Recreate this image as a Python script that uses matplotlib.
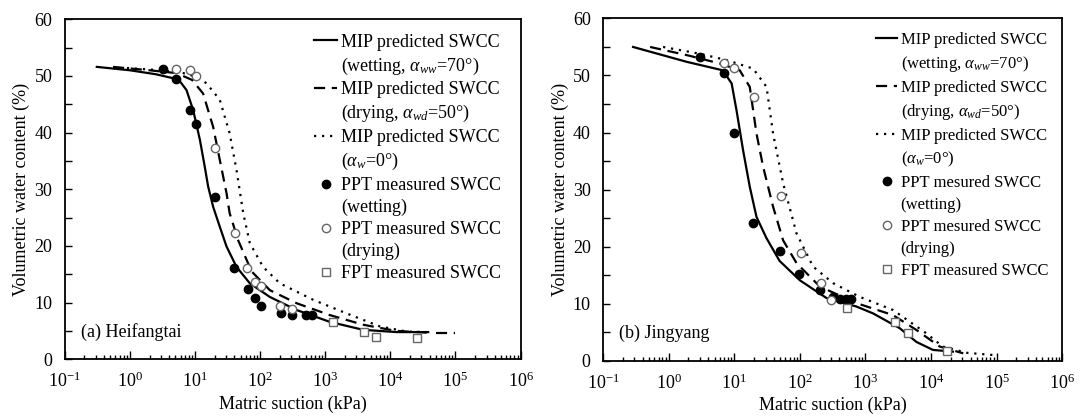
import numpy as np
import matplotlib
matplotlib.use("Agg")
import matplotlib.pyplot as plt
from matplotlib.lines import Line2D
from matplotlib.ticker import LogLocator, MultipleLocator, NullFormatter

plt.rcParams['font.family'] = ['Liberation Serif', 'DejaVu Serif']
plt.rcParams['mathtext.fontset'] = 'custom'
plt.rcParams['mathtext.rm'] = 'Liberation Serif'
plt.rcParams['mathtext.it'] = 'Liberation Serif:italic'
plt.rcParams['mathtext.default'] = 'regular'
plt.rcParams['font.size'] = 13

# ---- (a) Heifangtai ----
a_wet_s = [0.31, 1.0, 2.5, 4.6, 6.0, 7.4, 9.35, 11.9, 14.1, 15.9, 19, 24, 30.5, 43.4, 69.5, 141, 362, 1178, 3820, 12450, 38100]
a_wet_t = [51.6, 51.0, 50.3, 49.6, 48.9, 47.5, 44.0, 38.7, 34.0, 30.5, 26.9, 23.4, 19.9, 16.3, 13.4, 11.0, 8.7, 6.6, 5.2, 4.8, 4.8]
a_dry_s = [0.55, 2.0, 5.2, 9.0, 13.3, 19, 24, 30.5, 34, 46, 74, 141, 362, 1178, 3820, 12450, 38100]
a_dry_t = [51.6, 51.0, 50.5, 49.3, 46.9, 41.0, 35.2, 29.3, 25.8, 21.0, 15.5, 12.2, 9.9, 7.8, 6.1, 5.0, 4.7]
a_dry_tail_s = [51000, 100000]
a_dry_tail_t = [4.6, 4.6]
a_zero_s = [0.9, 3.0, 6.6, 11, 15, 24, 34, 43.4, 55, 69.5, 111, 201, 652, 2125, 6900, 17700, 36000]
a_zero_t = [51.4, 51.0, 50.5, 49.8, 48.7, 45.8, 39.9, 33.4, 25.8, 20.5, 16.3, 13.4, 10.5, 8.1, 5.8, 4.9, 4.8]
a_pw_s = [3.17, 5.1, 8.3, 10.3, 20.1, 39.9, 64, 83, 103, 208, 311, 498, 617]
a_pw_t = [51.3, 49.4, 44.0, 41.5, 28.7, 16.1, 12.4, 10.9, 9.4, 8.2, 7.9, 7.8, 7.8]
a_pd_s = [5.07, 8.3, 10.3, 20.4, 40.8, 61.8, 83, 103, 201, 311]
a_pd_t = [51.3, 51.0, 50.0, 37.2, 22.2, 16.1, 13.7, 12.9, 9.4, 8.9]
a_fpt_s = [1294, 3963, 5985, 25800]
a_fpt_t = [6.5, 4.8, 4.0, 3.7]

# ---- (b) Jingyang ----
b_wet_s = [0.286, 1.87, 6.7, 9.1, 10.8, 13.6, 17.2, 21.8, 30.9, 49, 100, 254, 730, 1306, 3336, 5980, 10700, 21600]
b_wet_t = [55.0, 52.4, 50.9, 48.6, 43.9, 36.9, 30.5, 25.2, 21.5, 17.5, 14.1, 11.0, 9.5, 8.3, 5.7, 3.3, 1.9, 1.6]
b_dry_s = [0.52, 2.0, 6.0, 12.1, 17.2, 21.8, 27.5, 39, 55.5, 89, 202, 730, 2630, 5980, 13500, 31000]
b_dry_t = [55.0, 53.5, 52.1, 50.9, 48.0, 39.8, 34.0, 27.0, 21.1, 17.1, 13.0, 10.1, 8.0, 5.4, 2.5, 1.3]
b_zero_s = [0.82, 3.0, 7.6, 19.4, 31, 39, 55.5, 89, 159, 321, 818, 2630, 8500, 15000, 35000, 89000]
b_zero_t = [55.0, 53.8, 52.7, 51.2, 48.0, 39.8, 31.1, 22.3, 16.5, 13.6, 11.2, 8.9, 4.8, 2.5, 1.4, 1.0]
b_pw_s = [2.98, 7.0, 9.9, 19.4, 49.4, 97, 206, 321, 405, 501, 612]
b_pw_t = [53.3, 50.5, 40.0, 24.2, 19.2, 15.2, 12.4, 11.2, 10.9, 10.8, 10.8]
b_pd_s = [7.0, 9.9, 19.8, 51, 103, 208, 303]
b_pd_t = [52.2, 51.3, 46.2, 28.9, 18.9, 13.7, 10.6]
b_fpt_s = [532, 2800, 4460, 17500]
b_fpt_t = [9.2, 6.8, 4.8, 1.75]

panels = [
    dict(wet=(a_wet_s, a_wet_t), dry=(a_dry_s, a_dry_t), tail=(a_dry_tail_s, a_dry_tail_t),
         zero=(a_zero_s, a_zero_t),
         pw=(a_pw_s, a_pw_t), pd=(a_pd_s, a_pd_t), fpt=(a_fpt_s, a_fpt_t),
         name="(a) Heifangtai", word="measured", rect=[0.060, 0.1425, 0.422, 0.8115],
         legx=0.985, legfs=13, legsp=0.27),
    dict(wet=(b_wet_s, b_wet_t), dry=(b_dry_s, b_dry_t), tail=None,
         zero=(b_zero_s, b_zero_t),
         pw=(b_pw_s, b_pw_t), pd=(b_pd_s, b_pd_t), fpt=(b_fpt_s, b_fpt_t),
         name="(b) Jingyang", word="mesured", rect=[0.5585, 0.139, 0.425, 0.817],
         legx=0.995, legfs=12, legsp=0.36),
]

fig = plt.figure(figsize=(10.8, 4.19), dpi=100)

for p in panels:
    ax = fig.add_axes(p["rect"])
    l1, = ax.plot(*p["wet"], color='black', lw=1.6, ls='-')
    l2, = ax.plot(*p["dry"], color='black', lw=1.6, ls=(0, (5, 3)))
    if p["tail"] is not None:
        ax.plot(*p["tail"], color='black', lw=1.6, ls=(0, (5, 3)))
    l3, = ax.plot(*p["zero"], color='black', lw=1.6, ls=(0, (1, 2.6)))
    m1, = ax.plot(*p["pw"], 'o', color='black', ms=6, ls='none', zorder=4)
    m2, = ax.plot(*p["pd"], 'o', mfc='white', mec='#666666', mew=1.0, ms=6, ls='none', zorder=4)
    m3, = ax.plot(*p["fpt"], 's', mfc='white', mec='#666666', mew=1.0, ms=6, ls='none', zorder=4)

    ax.set_xscale('log')
    ax.set_xlim(0.1, 1e6)
    ax.set_ylim(0, 60)
    ax.xaxis.set_major_locator(LogLocator(base=10, numticks=10))
    ax.xaxis.set_minor_locator(LogLocator(base=10, subs=np.arange(2, 10), numticks=20))
    ax.xaxis.set_minor_formatter(NullFormatter())
    ax.yaxis.set_major_locator(MultipleLocator(10))
    ax.yaxis.set_minor_locator(MultipleLocator(5))
    ax.tick_params(which='both', direction='in', top=False, right=False, labelsize=13)
    ax.tick_params(axis='x', which='major', length=6, width=1, pad=9)
    ax.tick_params(axis='x', which='minor', length=3, width=1)
    ax.tick_params(axis='y', which='both', length=5, width=1, pad=9)
    for sp in ax.spines.values():
        sp.set_linewidth(1.3)

    ax.set_xlabel("Matric suction (kPa)", fontsize=13, labelpad=3)
    ax.set_ylabel("Volumetric water content (%)", fontsize=13, labelpad=3)
    ax.text(0.035, 0.08, p["name"], transform=ax.transAxes, fontsize=13, va='center')

    blank = Line2D([], [], ls='none')
    handles = [l1, blank, l2, blank, l3, blank, m1, blank, m2, blank, m3]
    labels = ["MIP predicted SWCC", r"(wetting, $\mathit{\alpha_{ww}}$=70°)",
              "MIP predicted SWCC", r"(drying, $\mathit{\alpha_{wd}}$=50°)",
              "MIP predicted SWCC", r"($\mathit{\alpha_{w}}$=0°)",
              "PPT %s SWCC" % p["word"], "(wetting)",
              "PPT %s SWCC" % p["word"], "(drying)",
              "FPT measured SWCC"]
    ax.legend(handles, labels, loc='upper right', bbox_to_anchor=(p["legx"], 0.995),
              frameon=False, fontsize=p["legfs"], handlelength=1.3, handletextpad=0.2,
              labelspacing=p["legsp"], borderaxespad=0.3)

fig.savefig("out.png", dpi=100, facecolor='white')
